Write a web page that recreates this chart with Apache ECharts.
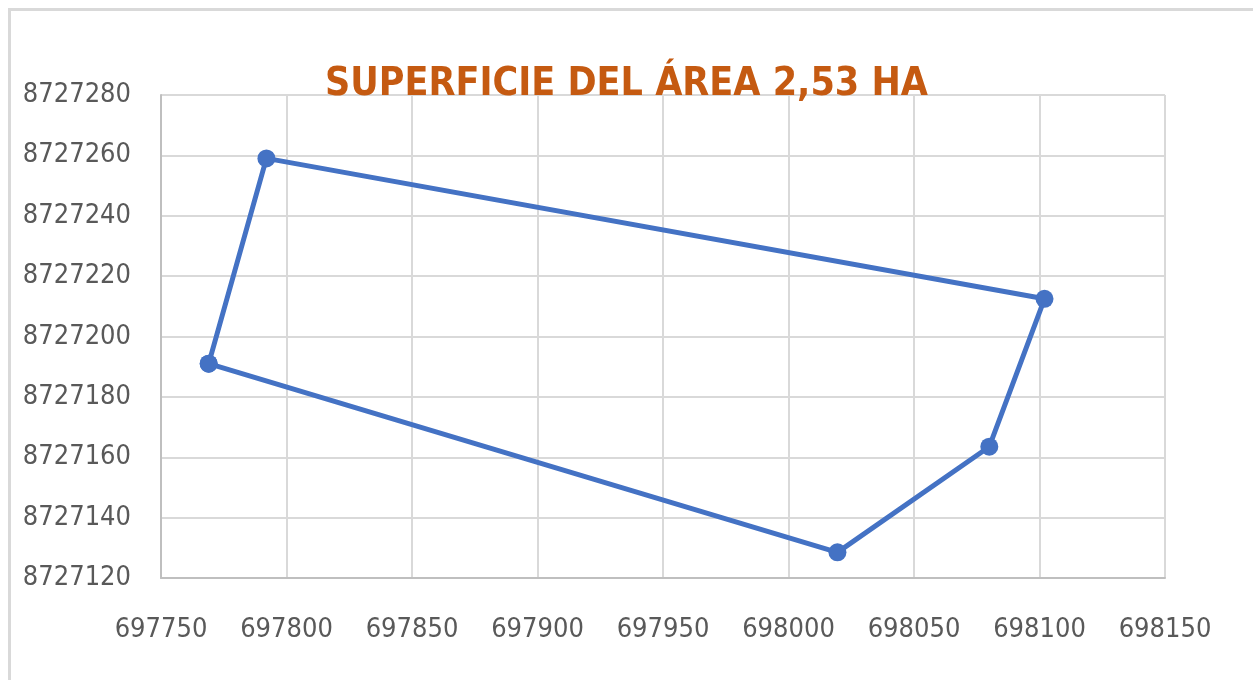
<!DOCTYPE html>
<html>
<head>
<meta charset="utf-8">
<script src="https://cdn.jsdelivr.net/npm/echarts@6/dist/echarts.min.js"></script>
<style>
  html, body { margin: 0; padding: 0; background: #fff; }
  #frame { position: absolute; left: 8px; top: 8px; width: 1260px; height: 690px; border: 3px solid #d9d9d9; box-sizing: border-box; }
  #chart { position: absolute; left: 0; top: 0; width: 1253px; height: 680px; }
</style>
</head>
<body>
<div id="frame"></div>
<div id="chart"></div>
<script>
// vertices of the polygon (easting, northing), closed back to the first one
const eastings = [697769, 697792, 698102, 698080, 698019.5, 697769]
const northings = [8727191, 8727259, 8727212.5, 8727163.5, 8727128.5, 8727191]
const titleText = 'SUPERFICIE DEL ÁREA 2,53 HA'

const labelFont = '"Liberation Sans Narrow", "DejaVu Sans Condensed", sans-serif'

var myChart = echarts.init(document.getElementById('chart'))
myChart.setOption({
    animation: false,
    title: {
        text: titleText,
        left: 'center',
        top: 60,
        textStyle: {
            color: '#C55A11',
            fontFamily: labelFont,
            fontWeight: 'bold',
            fontSize: 39
        }
    },
    grid: { left: 161, top: 95, right: 88, bottom: 102, outerBoundsMode: 'none', containLabel: false },
    xAxis: {
        type: 'value',
        min: 697750,
        max: 698150,
        interval: 50,
        axisLine: { show: true, lineStyle: { color: '#bfbfbf', width: 2 } },
        axisTick: { show: false },
        splitLine: { show: true, lineStyle: { color: '#d9d9d9', width: 2 } },
        axisLabel: { color: '#595959', fontFamily: labelFont, fontSize: 27, margin: 38, formatter: v => String(v) }
    },
    yAxis: {
        type: 'value',
        min: 8727120,
        max: 8727280,
        interval: 20,
        axisLine: { show: true, lineStyle: { color: '#bfbfbf', width: 2 } },
        axisTick: { show: false },
        splitLine: { show: true, lineStyle: { color: '#d9d9d9', width: 2 } },
        axisLabel: { color: '#595959', fontFamily: labelFont, fontSize: 27, margin: 30, formatter: v => String(v) }
    },
    series: [
        {
            type: 'line',
            data: eastings.map((x, i) => [x, northings[i]]),
            symbol: 'circle',
            symbolSize: 18,
            lineStyle: { color: '#4472C4', width: 5 },
            itemStyle: { color: '#4472C4' }
        }
    ]
})
</script>
</body>
</html>
